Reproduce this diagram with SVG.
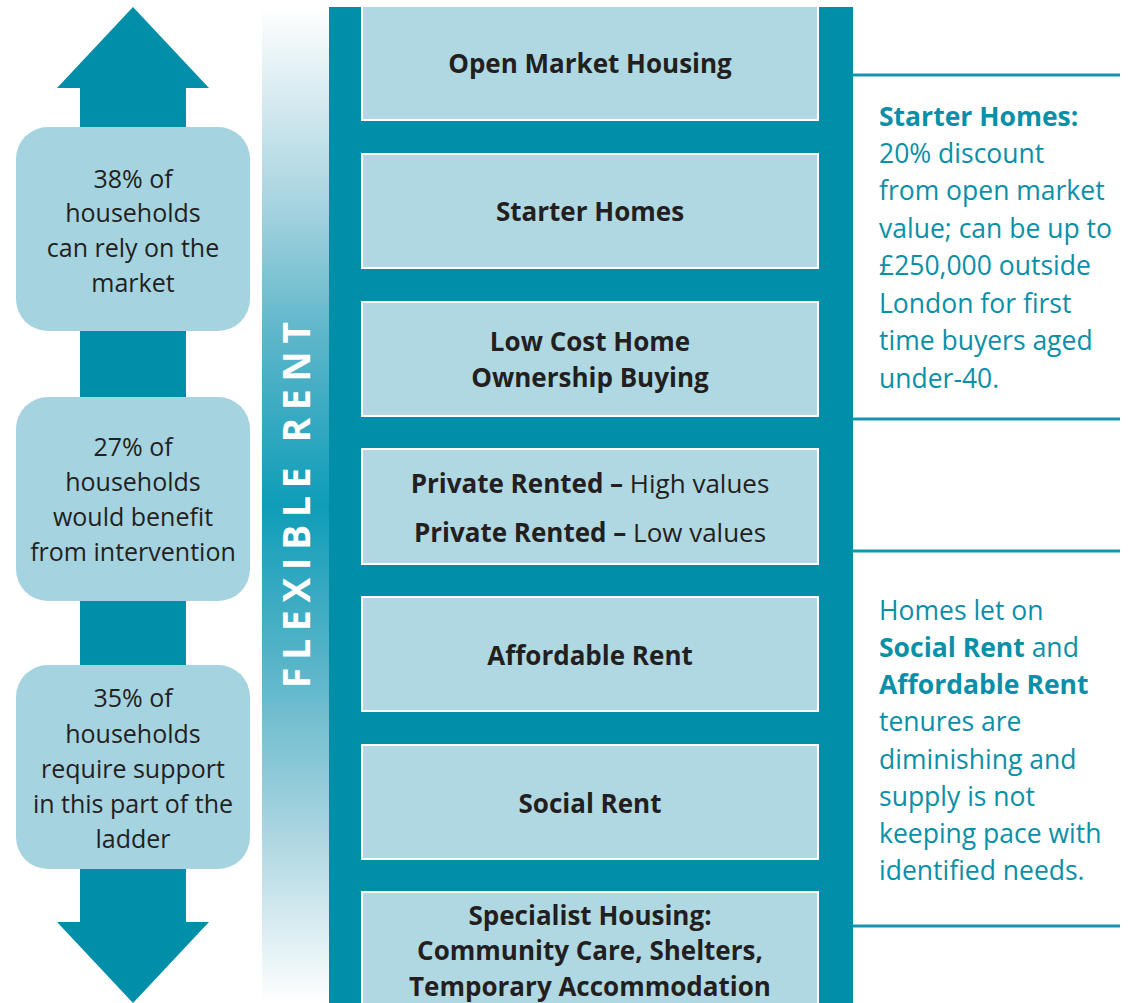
<svg xmlns="http://www.w3.org/2000/svg" width="1128" height="1003" viewBox="0 0 1128 1003">
<defs>
<linearGradient id="flex" x1="0" y1="0" x2="0" y2="1">
<stop offset="0" stop-color="#ffffff"/>
<stop offset="0.2" stop-color="#a6d3df"/>
<stop offset="0.33" stop-color="#5db6ca"/>
<stop offset="0.5" stop-color="#0e9db8"/>
<stop offset="0.67" stop-color="#5db6ca"/>
<stop offset="0.82" stop-color="#a6d3df"/>
<stop offset="1" stop-color="#ffffff"/>
</linearGradient>
<style>
.arrow{fill:#008ea8}
.lbox{fill:#a5d3e0}
.rung{fill:#b0d8e2;stroke:#ffffff;stroke-width:2}
.lt{font-family:"Open Sans","Liberation Sans",sans-serif;font-size:25px;fill:#231f20;text-anchor:middle}
.ct{font-family:"Open Sans","Liberation Sans",sans-serif;font-size:26px;font-weight:bold;fill:#231f20;text-anchor:middle}
.rt{font-family:"Open Sans","Liberation Sans",sans-serif;font-size:26.5px;fill:#0a8fa8}
.b{font-weight:bold}
.n{font-weight:normal}
.rule{stroke:#1596b0;stroke-width:3}
</style>
</defs>
<rect width="1128" height="1003" fill="#ffffff"/>

<g id="left-arrow">
<polygon class="arrow" points="133,7 209,88 186,88 186,130 80,130 80,88 57,88"/>
<rect class="arrow" x="80" y="325" width="106" height="80"/>
<rect class="arrow" x="80" y="595" width="106" height="75"/>
<polygon class="arrow" points="80,865 186,865 186,922 209,922 133,1003 57,922 80,922"/>
</g>

<g id="share-market">
<rect class="lbox" x="16" y="127" width="234" height="204" rx="32"/>
<text class="lt" x="133" y="188">38% of</text>
<text class="lt" x="133" y="222">households</text>
<text class="lt" x="133" y="257">can rely on the</text>
<text class="lt" x="133" y="292">market</text>
</g>
<g id="share-intervention">
<rect class="lbox" x="16" y="397" width="234" height="204" rx="32"/>
<text class="lt" x="133" y="456">27% of</text>
<text class="lt" x="133" y="491">households</text>
<text class="lt" x="133" y="526">would benefit</text>
<text class="lt" x="133" y="561">from intervention</text>
</g>
<g id="share-support">
<rect class="lbox" x="16" y="665" width="234" height="204" rx="32"/>
<text class="lt" x="133" y="707">35% of</text>
<text class="lt" x="133" y="743">households</text>
<text class="lt" x="133" y="778">require support</text>
<text class="lt" x="133" y="813">in this part of the</text>
<text class="lt" x="133" y="848">ladder</text>
</g>

<g id="flexible-rent">
<rect x="262" y="7" width="67" height="996" fill="url(#flex)"/>
<text transform="translate(310,505) rotate(-90)" text-anchor="middle" font-family="Open Sans, Liberation Sans, sans-serif" font-size="37" font-weight="bold" fill="#ffffff" textLength="366" lengthAdjust="spacing">FLEXIBLE RENT</text>
</g>

<g id="ladder">
<rect x="329" y="7" width="524" height="996" fill="#008ea8"/>
</g>

<g id="open-market">
<rect class="rung" x="362" y="6" width="456" height="114"/>
<text class="ct" x="590" y="73">Open Market Housing</text>
</g>
<g id="starter-homes">
<rect class="rung" x="362" y="154" width="456" height="114"/>
<text class="ct" x="590" y="221">Starter Homes</text>
</g>
<g id="low-cost">
<rect class="rung" x="362" y="302" width="456" height="114"/>
<text class="ct" x="590" y="351">Low Cost Home</text>
<text class="ct" x="590" y="387">Ownership Buying</text>
</g>
<g id="private-rented">
<rect class="rung" x="362" y="449" width="456" height="115"/>
<text class="ct" x="590" y="493">Private Rented – <tspan class="n">High values</tspan></text>
<text class="ct" x="590" y="542">Private Rented – <tspan class="n">Low values</tspan></text>
</g>
<g id="affordable-rent">
<rect class="rung" x="362" y="597" width="456" height="114"/>
<text class="ct" x="590" y="665">Affordable Rent</text>
</g>
<g id="social-rent">
<rect class="rung" x="362" y="745" width="456" height="114"/>
<text class="ct" x="590" y="813">Social Rent</text>
</g>
<g id="specialist">
<rect class="rung" x="362" y="892" width="456" height="120"/>
<text class="ct" x="590" y="925">Specialist Housing:</text>
<text class="ct" x="590" y="960">Community Care, Shelters,</text>
<text class="ct" x="590" y="996">Temporary Accommodation</text>
</g>

<g id="connectors">
<line class="rule" x1="853" y1="75" x2="1120" y2="75"/>
<line class="rule" x1="853" y1="419" x2="1120" y2="419"/>
<line class="rule" x1="853" y1="551" x2="1120" y2="551"/>
<line class="rule" x1="853" y1="926" x2="1120" y2="926"/>
</g>

<g id="note-starter">
<text class="rt b" x="879" y="126">Starter Homes:</text>
<text class="rt" x="879" y="163">20% discount</text>
<text class="rt" x="879" y="200">from open market</text>
<text class="rt" x="879" y="238">value; can be up to</text>
<text class="rt" x="879" y="275">£250,000 outside</text>
<text class="rt" x="879" y="313">London for first</text>
<text class="rt" x="879" y="350">time buyers aged</text>
<text class="rt" x="879" y="388">under-40.</text>
</g>
<g id="note-social">
<text class="rt" x="879" y="620">Homes let on</text>
<text class="rt" x="879" y="657"><tspan class="b">Social Rent</tspan> and</text>
<text class="rt b" x="879" y="694">Affordable Rent</text>
<text class="rt" x="879" y="731">tenures are</text>
<text class="rt" x="879" y="769">diminishing and</text>
<text class="rt" x="879" y="806">supply is not</text>
<text class="rt" x="879" y="843">keeping pace with</text>
<text class="rt" x="879" y="880">identified needs.</text>
</g>
</svg>
